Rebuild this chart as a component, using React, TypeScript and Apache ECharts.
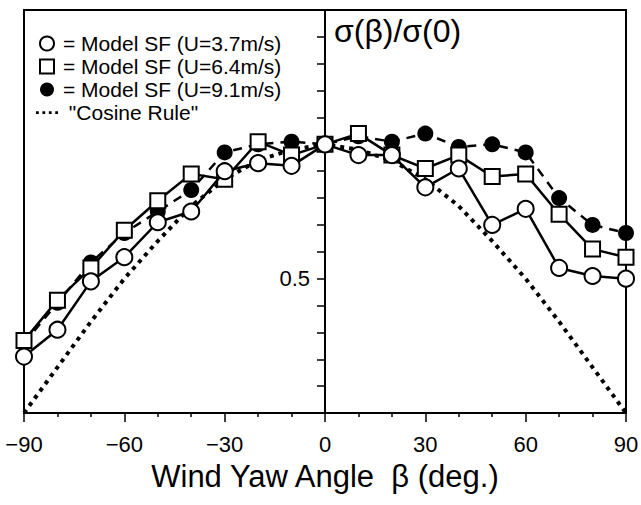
import React, { useEffect, useRef } from "react";
import * as echarts from "echarts";

const angles = [-90, -80, -70, -60, -50, -40, -30, -20, -10, 0, 10, 20, 30, 40, 50, 60, 70, 80, 90];
const seriesNames = ["Model SF (U=3.7m/s)", "Model SF (U=6.4m/s)", "Model SF (U=9.1m/s)", "\"Cosine Rule\""];
const low = [0.21, 0.31, 0.49, 0.58, 0.71, 0.75, 0.9, 0.93, 0.92, 1.0, 0.96, 0.96, 0.84, 0.91, 0.7, 0.76, 0.54, 0.51, 0.5];
const mid = [0.27, 0.42, 0.54, 0.68, 0.79, 0.89, 0.87, 1.01, 0.96, 1.0, 1.04, 0.96, 0.91, 0.96, 0.88, 0.89, 0.74, 0.61, 0.58];
const high = [0.26, 0.41, 0.56, 0.67, 0.75, 0.83, 0.97, 1.0, 1.01, 1.0, 1.03, 1.01, 1.04, 0.99, 1.0, 0.97, 0.8, 0.7, 0.67];
const cosine = [0.0, 0.17, 0.34, 0.5, 0.64, 0.77, 0.87, 0.94, 0.98, 1.0, 0.98, 0.94, 0.87, 0.77, 0.64, 0.5, 0.34, 0.17, 0.0];
const xLabelTitle = "Wind Yaw Angle  \u03B2 (deg.)";
const yLabelTitle = "\u03C3(\u03B2)/\u03C3(0)";
const yLabelShown = 0.5;

const FONT = "Liberation Sans";
const DOTS_ICON = "path://M0,0h3v3h-3zM7,0h3v3h-3zM14,0h3v3h-3zM21,0h3v3h-3z";
const SQUARE_ICON = "path://M0,0h10v10h-10z";

export default function App() {
  const ref = useRef<HTMLDivElement>(null);
  useEffect(() => {
    if (!ref.current) return;
    const chart = echarts.init(ref.current, null, { renderer: "svg" });
    const pts = (arr: number[]) => angles.map((a, i) => [a, arr[i]]);
    const titleGraphic = {
      id: "ytitle",
      type: "text",
      left: 334,
      top: 15,
      style: { text: yLabelTitle, fontFamily: FONT, fontSize: 32, fill: "#000" },
    };
    chart.setOption({
      animation: false,
      backgroundColor: "#fff",
      textStyle: { fontFamily: FONT, color: "#000" },
      grid: {
        left: 24,
        right: 15,
        top: 10,
        bottom: 92,
        containLabel: false,
        outerBoundsMode: "none",
        show: true,
        borderColor: "#000",
        borderWidth: 2,
        backgroundColor: "transparent",
      },
      legend: {
        orient: "vertical",
        left: 31,
        top: 28,
        itemWidth: 22,
        itemHeight: 14,
        itemGap: 2,
        textStyle: { fontFamily: FONT, fontSize: 21, color: "#000" },
        formatter: (name: string) => (name.startsWith("Model") ? "= " + name : " " + name),
        data: [
          { name: seriesNames[0], icon: "circle", itemStyle: { color: "#fff", borderColor: "#000", borderWidth: 2 } },
          { name: seriesNames[1], icon: SQUARE_ICON, itemStyle: { color: "#fff", borderColor: "#000", borderWidth: 2 } },
          { name: seriesNames[2], icon: "circle", itemStyle: { color: "#000", borderColor: "#000", borderWidth: 0 } },
          { name: seriesNames[3], icon: DOTS_ICON, itemStyle: { color: "#000", borderWidth: 0 } },
        ],
      },
      graphic: [titleGraphic],
      xAxis: {
        type: "value",
        min: -90,
        max: 90,
        interval: 30,
        name: xLabelTitle,
        nameLocation: "middle",
        nameGap: 48,
        nameTextStyle: { fontFamily: FONT, fontSize: 31, color: "#000" },
        axisLine: { show: true, onZero: false, lineStyle: { color: "#000", width: 2 } },
        axisTick: { show: true, length: 9, lineStyle: { color: "#000", width: 1.5 } },
        minorTick: { show: true, splitNumber: 3, length: 4, lineStyle: { color: "#000", width: 1.5 } },
        axisLabel: {
          fontFamily: FONT,
          fontSize: 22,
          color: "#000",
          margin: 20,
          formatter: (v: number) => String(v).replace("-", "\u2212"),
        },
        splitLine: { show: false },
      },
      yAxis: {
        type: "value",
        min: 0,
        max: 1.5,
        interval: 0.1,
        axisLine: { show: true, onZero: true, lineStyle: { color: "#000", width: 2 } },
        axisTick: { show: true, length: 8, lineStyle: { color: "#000", width: 1.5 } },
        axisLabel: { show: false },
        splitLine: { show: false },
      },
      series: [
        {
          name: seriesNames[3],
          type: "line",
          data: pts(cosine),
          symbol: "none",
          lineStyle: { color: "#000", width: 4, type: [4, 5] },
          itemStyle: { color: "#000" },
          z: 1,
        },
        {
          name: seriesNames[2],
          type: "line",
          data: pts(high),
          symbol: "circle",
          symbolSize: 16,
          lineStyle: { color: "#000", width: 2.5, type: [9, 7] },
          itemStyle: { color: "#000", borderColor: "#000", borderWidth: 0 },
          z: 2,
        },
        {
          name: seriesNames[1],
          type: "line",
          data: pts(mid),
          symbol: "rect",
          symbolSize: 15,
          lineStyle: { color: "#000", width: 2.5 },
          itemStyle: { color: "#fff", borderColor: "#000", borderWidth: 2 },
          z: 3,
        },
        {
          name: seriesNames[0],
          type: "line",
          data: pts(low),
          symbol: "circle",
          symbolSize: 16,
          lineStyle: { color: "#000", width: 2.5 },
          itemStyle: { color: "#fff", borderColor: "#000", borderWidth: 2 },
          z: 4,
        },
      ],
    });
    // Place the single y tick label next to the zero-positioned y axis, via the library's scales.
    const p = chart.convertToPixel({ xAxisIndex: 0, yAxisIndex: 0 }, [0, yLabelShown]) as number[];
    if (p && isFinite(p[0]) && isFinite(p[1])) {
      chart.setOption({
        graphic: [
          titleGraphic,
          {
            id: "ylabel",
            type: "text",
            x: p[0] - 15,
            y: p[1],
            style: {
              text: String(yLabelShown),
              fontFamily: FONT,
              fontSize: 22,
              fill: "#000",
              align: "right",
              verticalAlign: "middle",
            },
          },
        ],
      });
    }
    return () => chart.dispose();
  }, []);
  return (
    <div
      ref={ref}
      style={{ position: "fixed", left: 0, top: 0, width: 641, height: 505, background: "#fff" }}
    />
  );
}
